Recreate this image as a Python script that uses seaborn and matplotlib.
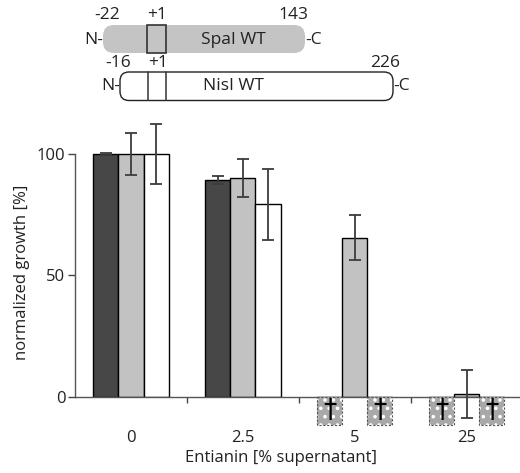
import matplotlib
matplotlib.use("Agg")
import matplotlib.pyplot as plt
import seaborn as sns
import pandas as pd
import numpy as np
from matplotlib.patches import Rectangle, FancyBboxPatch

# ---------------- data ----------------
concentrations = ["0", "2.5", "5", "25"]
series = ["strain 1", "SpaI WT", "NisI WT"]
dark_vals = [100.0, 89.3, 0.0, 0.0]
dark_err = [0.6, 1.8, 0.0, 0.0]
gray_vals = [100.0, 90.0, 65.6, 1.2]
gray_err = [8.7, 7.9, 9.2, 9.8]
white_vals = [100.0, 79.4, 0.0, 0.0]
white_err = [12.3, 14.6, 0.0, 0.0]
dark_dead = [False, False, True, True]
gray_dead = [False, False, False, False]
white_dead = [False, False, True, True]
colors = ["#474747", "#c2c2c2", "#ffffff"]
yticks = [0, 50, 100]

rows = []
for s, vals, errs, dead in zip(series,
                               [dark_vals, gray_vals, white_vals],
                               [dark_err, gray_err, white_err],
                               [dark_dead, gray_dead, white_dead]):
    for c, v, e, d in zip(concentrations, vals, errs, dead):
        rows.append({"conc": c, "series": s, "value": v, "err": e, "dead": d})
df = pd.DataFrame(rows)

sns.set_style("ticks")
plt.rcParams["font.family"] = ["Open Sans", "DejaVu Sans"]
plt.rcParams["hatch.linewidth"] = 1.4

W, H = 520, 473
fig = plt.figure(figsize=(W / 100, H / 100), dpi=100)
ax = fig.add_axes([75 / W, (H - 397) / H, 444.6 / W, 281.9 / H])

sns.barplot(data=df, x="conc", y="value", hue="series", order=concentrations,
            hue_order=series, palette=colors, width=0.67, errorbar=None,
            edgecolor="black", linewidth=1.0, legend=False, ax=ax)

# error bars & dead markers from the bar patches
bars = [p for p in ax.patches if isinstance(p, Rectangle)]
for s_i, s in enumerate(series):
    sub = df[df.series == s].set_index("conc").loc[concentrations]
    for c_i, c in enumerate(concentrations):
        p = bars[s_i * len(concentrations) + c_i]
        xc = p.get_x() + p.get_width() / 2
        row = sub.loc[c]
        if row.err > 0:
            ax.errorbar(xc, row.value, yerr=row.err, fmt="none", ecolor="#3c3c3c",
                        elinewidth=1.3, capsize=4, capthick=1.3, clip_on=False, zorder=5)
        if row.dead:
            box = Rectangle((p.get_x(), 0), p.get_width(), -11.6, facecolor="#a8a8a8",
                            edgecolor="white", hatch="..", linewidth=0, clip_on=False, zorder=4)
            ax.add_patch(box)
            ax.add_patch(Rectangle((p.get_x(), 0), p.get_width(), -11.6, fill=False,
                                   edgecolor="#555555", linestyle=(0, (2, 1.5)), linewidth=0.8,
                                   clip_on=False, zorder=4))
            ax.text(xc, -5.8, "\u2020", ha="center", va="center", fontsize=19,
                    color="black", family="DejaVu Sans",
                    clip_on=False, zorder=6)

ax.set_xlim(-0.5, 3.47)
ax.set_ylim(0, 116)
ax.set_yticks(yticks)
ax.set_yticklabels([str(t) for t in yticks])
ax.set_xticks(range(len(concentrations)))
ax.set_xticklabels(concentrations)
ax.set_xticks([0.5, 1.5, 2.5], minor=True)
ax.tick_params(axis="x", which="major", length=0, pad=24, labelsize=12)
ax.tick_params(axis="x", which="minor", length=4, width=1, color="#444444", direction="out")
ax.tick_params(axis="y", length=5, width=1, color="#444444", labelsize=12, pad=2)
for t in ax.get_yticklabels() + ax.get_xticklabels():
    t.set_color("#222222")

sns.despine(ax=ax)
ax.spines["left"].set_bounds(0, 100)
for sp in ["left", "bottom"]:
    ax.spines[sp].set_color("#555555")
    ax.spines[sp].set_linewidth(1.0)

ax.set_xlabel("Entianin [% supernatant]", fontsize=12, color="#222222")
ax.set_ylabel("normalized growth [%]", fontsize=12, color="#222222")
ax.xaxis.set_label_coords((281 - 75) / 444.6, (397 - 450) / 281.9)
ax.yaxis.set_label_coords((22 - 75) / 444.6, (397 - 272) / 281.9)
ax.yaxis.label.set_verticalalignment("center")

# ---------------- schematic on top ----------------
ov = fig.add_axes([0, 0, 1, 1], zorder=-1)
ov.set_xlim(0, W)
ov.set_ylim(H, 0)
ov.axis("off")

ov.add_patch(FancyBboxPatch((103, 25), 202, 28, boxstyle="round,pad=0,rounding_size=11",
                            facecolor="#c4c4c4", edgecolor="none"))
ov.add_patch(Rectangle((147, 25), 19, 28, fill=False, edgecolor="#333333", linewidth=1.2))
ov.add_patch(FancyBboxPatch((120, 72), 273, 28.5, boxstyle="round,pad=0,rounding_size=9",
                            facecolor="white", edgecolor="#222222", linewidth=1.0))
ov.plot([147.7, 147.7], [72, 100.5], color="#333333", lw=1.1)
ov.plot([166, 166], [72, 100.5], color="#333333", lw=1.1)

fs = 12.5
ov.text(103, 40, "N-", ha="right", va="center", fontsize=fs, color="#222222")
ov.text(305, 40, "-C", ha="left", va="center", fontsize=fs, color="#222222")
ov.text(233, 40, "SpaI WT", ha="center", va="center", fontsize=fs, color="#222222")
ov.text(107, 15, "-22", ha="center", va="center", fontsize=fs, color="#222222")
ov.text(157, 15, "+1", ha="center", va="center", fontsize=fs, color="#222222")
ov.text(293, 15, "143", ha="center", va="center", fontsize=fs, color="#222222")

ov.text(120, 86, "N-", ha="right", va="center", fontsize=fs, color="#222222")
ov.text(393, 86, "-C", ha="left", va="center", fontsize=fs, color="#222222")
ov.text(233, 86, "NisI WT", ha="center", va="center", fontsize=fs, color="#222222")
ov.text(118, 63, "-16", ha="center", va="center", fontsize=fs, color="#222222")
ov.text(158, 63, "+1", ha="center", va="center", fontsize=fs, color="#222222")
ov.text(385, 63, "226", ha="center", va="center", fontsize=fs, color="#222222")

fig.savefig("out.png", dpi=100)
